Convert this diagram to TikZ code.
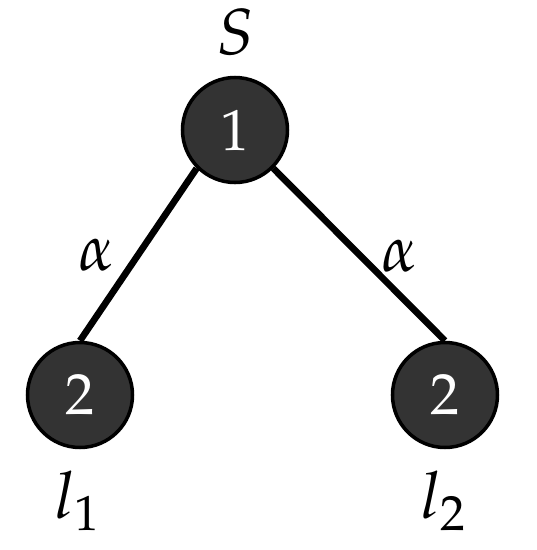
\documentclass[tikz,border=0pt]{standalone}
\usepackage{amsmath}
\usepackage{mathpazo}

\definecolor{nodefill}{RGB}{51,51,51}

\begin{document}
\begin{tikzpicture}[scale=1, every node/.style={scale=1},
    vertex/.style={circle, draw=black, line width=1pt, fill=nodefill,
        text=white, minimum size=1.05cm, inner sep=0pt, font=\fontsize{16.5}{18}\selectfont},
    tag/.style={font=\fontsize{18.5}{21}\selectfont},
    link/.style={line width=1.9pt}]

\useasboundingbox (0, 0) rectangle (5.37, 5.50);

% Dimensions
\def\topy{4.20}
\def\boty{1.55}

% Vertices
\node[vertex] (root) at (2.35, \topy) {$1$};
\node[vertex] (leftleaf) at (0.80, \boty) {$2$};
\node[vertex] (rightleaf) at (4.45, \boty) {$2$};

% Edges
\draw[link] (root.south west) -- (leftleaf.north);
\draw[link] (root.south east) -- (rightleaf.north);

% Labels
\node[tag] (rootname) at (2.36, 5.18) {$S$};
\node[tag] (leftname) at (0.78, 0.49) {$l_1$};
\node[tag] (rightname) at (4.44, 0.49) {$l_2$};
\node[tag] (leftweight) at (0.97, 2.95) {$\alpha$};
\node[tag] (rightweight) at (4.00, 2.94) {$\alpha$};

\end{tikzpicture}
\end{document}
